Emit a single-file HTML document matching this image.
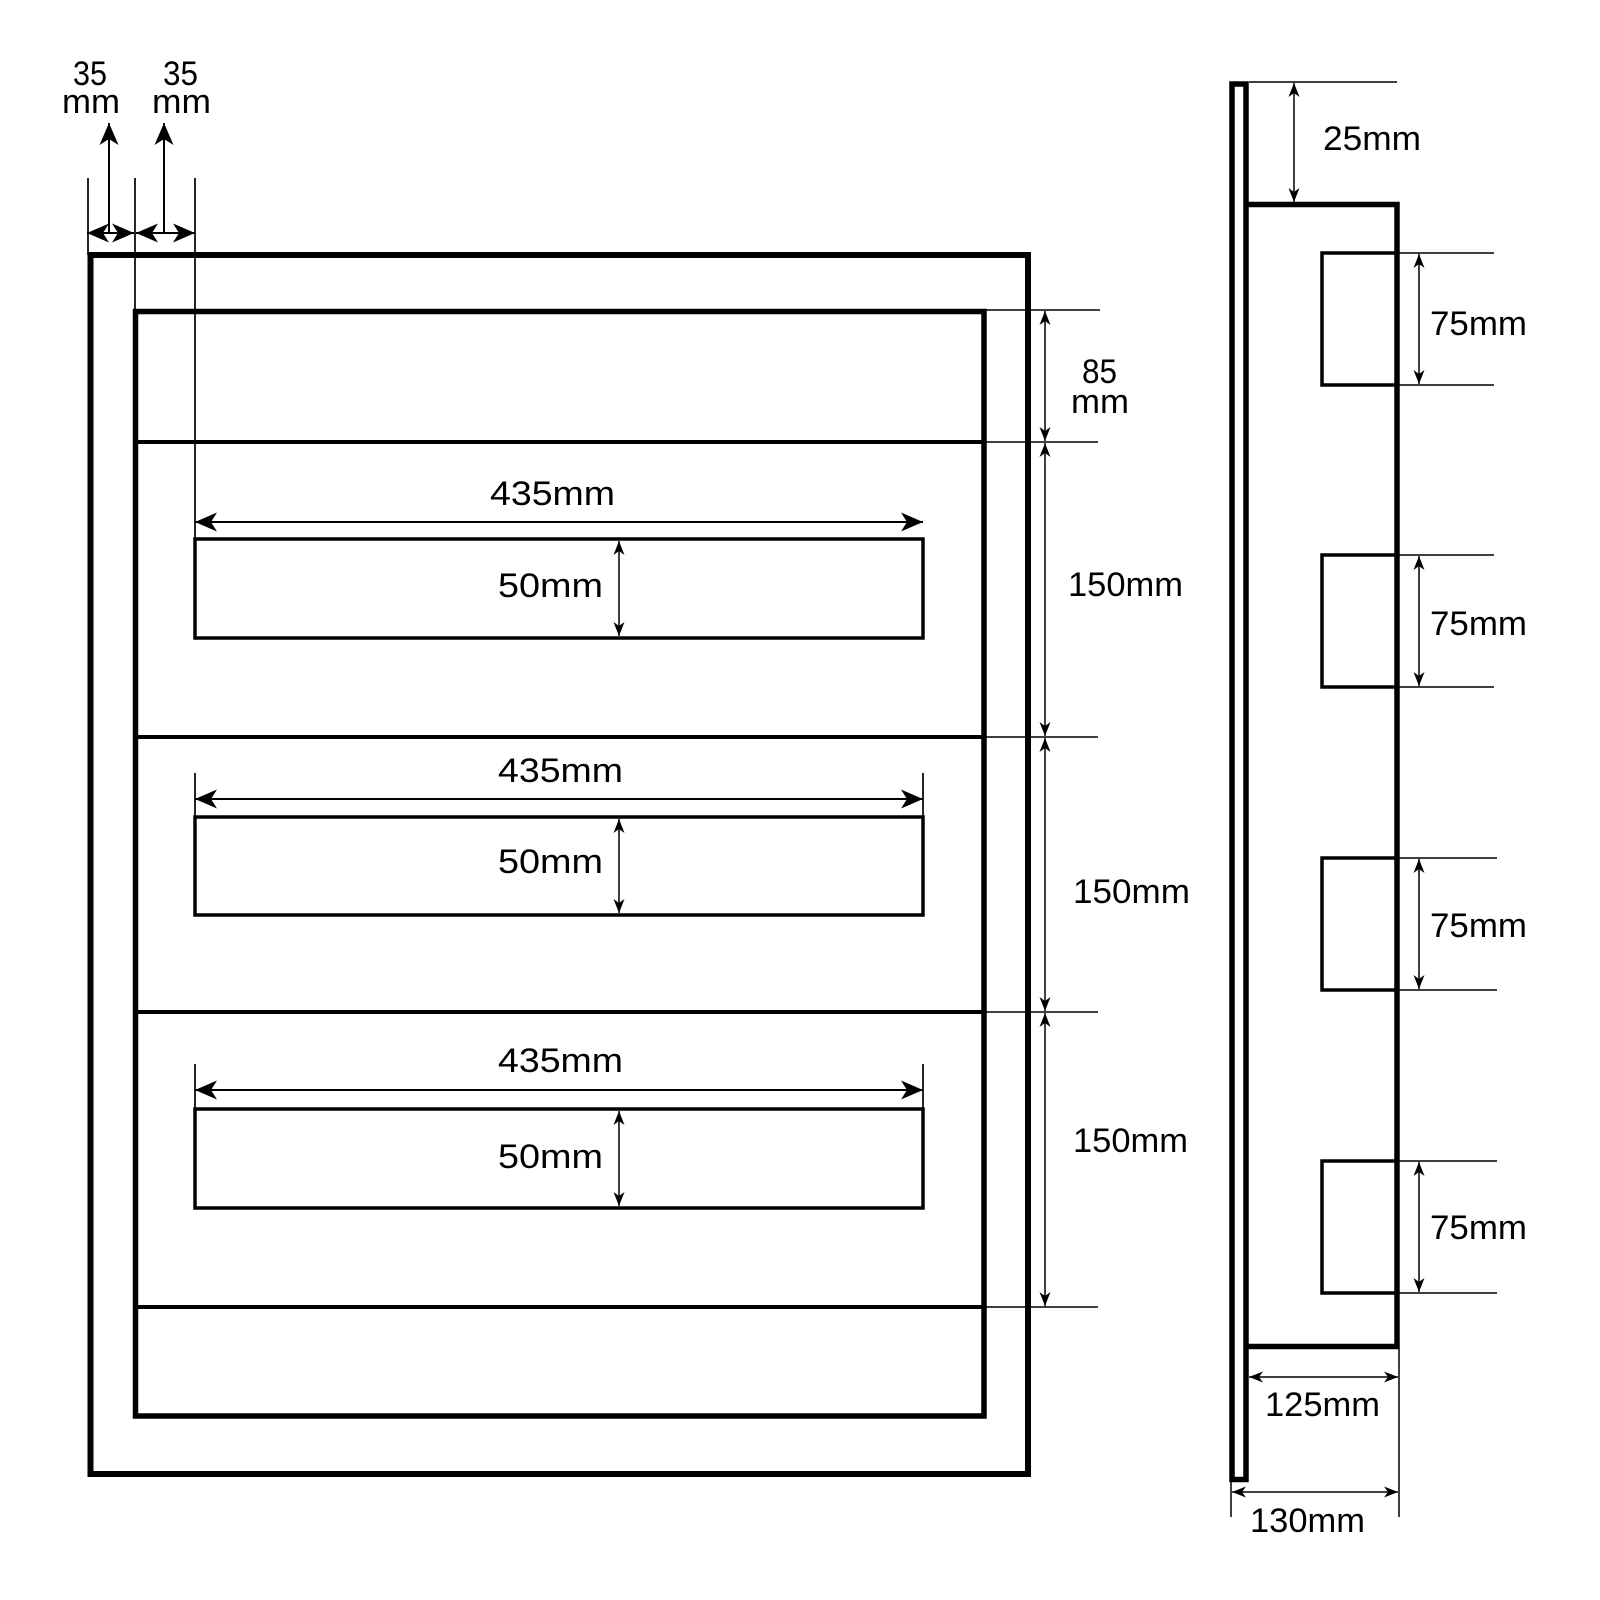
<!DOCTYPE html>
<html>
<head>
<meta charset="utf-8">
<style>
  html, body { margin: 0; padding: 0; background: #fff; }
  svg { display: block; }
  text { font-family: "Liberation Sans", "DejaVu Sans", sans-serif; font-size: 34px; fill: #000; }
</style>
</head>
<body>
<svg width="1600" height="1600" viewBox="0 0 1600 1600" xmlns="http://www.w3.org/2000/svg">
  <defs>
    <marker id="big" viewBox="0 0 22 19" refX="22" refY="9.5" markerWidth="22" markerHeight="19" markerUnits="userSpaceOnUse" orient="auto-start-reverse">
      <path d="M0,0 L22,9.5 L0,19 L6,9.5 z" fill="#000"/>
    </marker>
    <marker id="sm" viewBox="0 0 14 11" refX="14" refY="5.5" markerWidth="14" markerHeight="11" markerUnits="userSpaceOnUse" orient="auto-start-reverse">
      <path d="M0,0 L14,5.5 L0,11 L4,5.5 z" fill="#000"/>
    </marker>
  </defs>

  <rect width="1600" height="1600" fill="#fff"/>

  <!-- ===== FRONT VIEW ===== -->
  <!-- outer frame -->
  <rect x="90.5" y="255" width="937.5" height="1219" fill="none" stroke="#000" stroke-width="6"/>
  <!-- inner frame -->
  <rect x="135.5" y="311.5" width="848.5" height="1104.5" fill="none" stroke="#000" stroke-width="5.5"/>

  <!-- dividers -->
  <g stroke="#000" stroke-width="4">
    <line x1="135" y1="442" x2="984" y2="442"/>
    <line x1="135" y1="737" x2="984" y2="737"/>
    <line x1="135" y1="1012" x2="984" y2="1012"/>
    <line x1="135" y1="1307" x2="984" y2="1307"/>
  </g>
  <!-- right extension lines -->
  <g stroke="#000" stroke-width="1.5">
    <line x1="984" y1="310" x2="1100" y2="310"/>
    <line x1="984" y1="442" x2="1098" y2="442"/>
    <line x1="984" y1="737" x2="1098" y2="737"/>
    <line x1="984" y1="1012" x2="1098" y2="1012"/>
    <line x1="984" y1="1307" x2="1098" y2="1307"/>
  </g>
  <!-- vertical dimension chain -->
  <g stroke="#000" stroke-width="1.5" fill="none">
    <line x1="1045" y1="311" x2="1045" y2="441" marker-start="url(#sm)" marker-end="url(#sm)"/>
    <line x1="1045" y1="443" x2="1045" y2="736" marker-start="url(#sm)" marker-end="url(#sm)"/>
    <line x1="1045" y1="738" x2="1045" y2="1011" marker-start="url(#sm)" marker-end="url(#sm)"/>
    <line x1="1045" y1="1013" x2="1045" y2="1306" marker-start="url(#sm)" marker-end="url(#sm)"/>
  </g>
  <text x="1082" y="383" textLength="35" lengthAdjust="spacingAndGlyphs">85</text>
  <text x="1071" y="413" textLength="58" lengthAdjust="spacingAndGlyphs">mm</text>
  <text x="1068" y="596" textLength="115" lengthAdjust="spacingAndGlyphs">150mm</text>
  <text x="1073" y="903" textLength="117" lengthAdjust="spacingAndGlyphs">150mm</text>
  <text x="1073" y="1152" textLength="115" lengthAdjust="spacingAndGlyphs">150mm</text>

  <!-- 35mm dims top-left -->
  <g stroke="#000" stroke-width="1.7">
    <line x1="88" y1="178" x2="88" y2="255"/>
    <line x1="135" y1="178" x2="135" y2="311"/>
    <line x1="195" y1="178" x2="195" y2="539"/>
  </g>
  <g stroke="#000" stroke-width="2" fill="none">
    <line x1="87" y1="233" x2="134" y2="233" marker-start="url(#big)" marker-end="url(#big)"/>
    <line x1="136" y1="233" x2="195" y2="233" marker-start="url(#big)" marker-end="url(#big)"/>
    <line x1="109" y1="233" x2="109" y2="123" marker-end="url(#big)"/>
    <line x1="164" y1="233" x2="164" y2="123" marker-end="url(#big)"/>
  </g>
  <text x="73" y="85" textLength="34" lengthAdjust="spacingAndGlyphs">35</text>
  <text x="62" y="113" textLength="58" lengthAdjust="spacingAndGlyphs">mm</text>
  <text x="163" y="85" textLength="35" lengthAdjust="spacingAndGlyphs">35</text>
  <text x="152" y="113" textLength="59" lengthAdjust="spacingAndGlyphs">mm</text>

  <!-- row 1 -->
  <line x1="195" y1="522" x2="923" y2="522" stroke="#000" stroke-width="2" marker-start="url(#big)" marker-end="url(#big)"/>
  <rect x="195" y="539" width="728" height="99" fill="none" stroke="#000" stroke-width="3.5"/>
  <line x1="619" y1="541" x2="619" y2="636" stroke="#000" stroke-width="1.5" marker-start="url(#sm)" marker-end="url(#sm)"/>
  <text x="490" y="505" textLength="125" lengthAdjust="spacingAndGlyphs">435mm</text>
  <text x="498" y="597" textLength="105" lengthAdjust="spacingAndGlyphs">50mm</text>

  <!-- row 2 -->
  <g stroke="#000" stroke-width="1.7">
    <line x1="195" y1="773" x2="195" y2="817"/>
    <line x1="923" y1="773" x2="923" y2="817"/>
  </g>
  <line x1="195" y1="799" x2="923" y2="799" stroke="#000" stroke-width="2" marker-start="url(#big)" marker-end="url(#big)"/>
  <rect x="195" y="817" width="728" height="98" fill="none" stroke="#000" stroke-width="3.5"/>
  <line x1="619" y1="819" x2="619" y2="913" stroke="#000" stroke-width="1.5" marker-start="url(#sm)" marker-end="url(#sm)"/>
  <text x="498" y="782" textLength="125" lengthAdjust="spacingAndGlyphs">435mm</text>
  <text x="498" y="873" textLength="105" lengthAdjust="spacingAndGlyphs">50mm</text>

  <!-- row 3 -->
  <g stroke="#000" stroke-width="1.7">
    <line x1="195" y1="1064" x2="195" y2="1109"/>
    <line x1="923" y1="1064" x2="923" y2="1109"/>
  </g>
  <line x1="195" y1="1090" x2="923" y2="1090" stroke="#000" stroke-width="2" marker-start="url(#big)" marker-end="url(#big)"/>
  <rect x="195" y="1109" width="728" height="99" fill="none" stroke="#000" stroke-width="3.5"/>
  <line x1="619" y1="1111" x2="619" y2="1206" stroke="#000" stroke-width="1.5" marker-start="url(#sm)" marker-end="url(#sm)"/>
  <text x="498" y="1072" textLength="125" lengthAdjust="spacingAndGlyphs">435mm</text>
  <text x="498" y="1168" textLength="105" lengthAdjust="spacingAndGlyphs">50mm</text>

  <!-- ===== SIDE VIEW ===== -->
  <!-- strip -->
  <rect x="1232" y="84" width="14" height="1395.5" fill="none" stroke="#000" stroke-width="5.5"/>
  <!-- box -->
  <polyline points="1246,204.5 1397,204.5 1397,1346.5 1246,1346.5" fill="none" stroke="#000" stroke-width="5.5"/>

  <!-- 25mm -->
  <line x1="1249" y1="82" x2="1397" y2="82" stroke="#000" stroke-width="1.5"/>
  <line x1="1294" y1="83" x2="1294" y2="202" stroke="#000" stroke-width="1.5" marker-start="url(#sm)" marker-end="url(#sm)"/>
  <text x="1323" y="150" textLength="98" lengthAdjust="spacingAndGlyphs">25mm</text>

  <!-- squares -->
  <g fill="none" stroke="#000" stroke-width="3.5">
    <polyline points="1397,253 1322,253 1322,385 1397,385"/>
    <polyline points="1397,555 1322,555 1322,687 1397,687"/>
    <polyline points="1397,858 1322,858 1322,990 1397,990"/>
    <polyline points="1397,1161 1322,1161 1322,1293 1397,1293"/>
  </g>
  <g stroke="#000" stroke-width="1.5">
    <line x1="1397" y1="253" x2="1494" y2="253"/>
    <line x1="1397" y1="385" x2="1494" y2="385"/>
    <line x1="1397" y1="555" x2="1494" y2="555"/>
    <line x1="1397" y1="687" x2="1494" y2="687"/>
    <line x1="1397" y1="858" x2="1497" y2="858"/>
    <line x1="1397" y1="990" x2="1497" y2="990"/>
    <line x1="1397" y1="1161" x2="1497" y2="1161"/>
    <line x1="1397" y1="1293" x2="1497" y2="1293"/>
  </g>
  <g stroke="#000" stroke-width="1.5">
    <line x1="1419" y1="254" x2="1419" y2="384" marker-start="url(#sm)" marker-end="url(#sm)"/>
    <line x1="1419" y1="556" x2="1419" y2="686" marker-start="url(#sm)" marker-end="url(#sm)"/>
    <line x1="1419" y1="859" x2="1419" y2="989" marker-start="url(#sm)" marker-end="url(#sm)"/>
    <line x1="1419" y1="1162" x2="1419" y2="1292" marker-start="url(#sm)" marker-end="url(#sm)"/>
  </g>
  <text x="1430" y="335" textLength="97" lengthAdjust="spacingAndGlyphs">75mm</text>
  <text x="1430" y="635" textLength="97" lengthAdjust="spacingAndGlyphs">75mm</text>
  <text x="1430" y="937" textLength="97" lengthAdjust="spacingAndGlyphs">75mm</text>
  <text x="1430" y="1239" textLength="97" lengthAdjust="spacingAndGlyphs">75mm</text>

  <!-- 125mm / 130mm -->
  <g stroke="#000" stroke-width="1.5">
    <line x1="1399" y1="1349" x2="1399" y2="1517"/>
    <line x1="1231" y1="1482" x2="1231" y2="1517"/>
    <line x1="1249" y1="1377" x2="1398" y2="1377" marker-start="url(#sm)" marker-end="url(#sm)"/>
    <line x1="1232" y1="1492" x2="1398" y2="1492" marker-start="url(#sm)" marker-end="url(#sm)"/>
  </g>
  <text x="1265" y="1416" textLength="115" lengthAdjust="spacingAndGlyphs">125mm</text>
  <text x="1250" y="1532" textLength="115" lengthAdjust="spacingAndGlyphs">130mm</text>
</svg>
</body>
</html>
